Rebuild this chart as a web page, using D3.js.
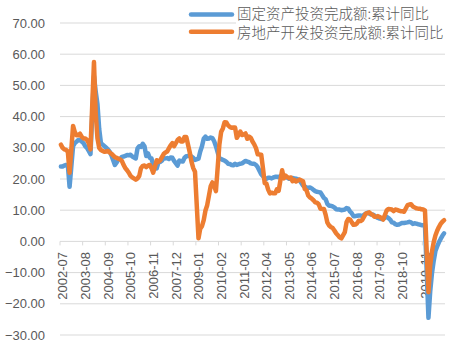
<!DOCTYPE html>
<html><head><meta charset="utf-8">
<script src="https://cdn.jsdelivr.net/npm/d3@7/dist/d3.min.js"></script>
<style>html,body{margin:0;padding:0;background:#fff;}svg{display:block;}</style>
</head><body>
<svg id="chart" width="468" height="355"></svg>
<script>
// ---------- DATA ----------
const seriesNames = ["固定资产投资完成额:累计同比", "房地产开发投资完成额:累计同比"];
const startYear = 2002, startMonth = 7, monthCount = 221; // 2002-07 .. 2020-11
const yTicks = [-30, -20, -10, 0, 10, 20, 30, 40, 50, 60, 70];
const tickLabels = ["2002-07","2003-08","2004-09","2005-10","2006-11","2007-12","2009-01","2010-02","2011-03","2012-04","2013-05","2014-06","2015-07","2016-08","2017-09","2018-10","2019-11"];

// 固定资产投资完成额:累计同比 (%), monthly; null = no separate January figure
const fixedAssetYoY = [
  24.0, 24.0, 24.3, 24.5, 24.5, 17.5,                                   // 2002-07..12
  null, 30.5, 31.5, 32.0, 32.5, 32.5, 32.0, 31.5, 30.5, 30.0, 29.0, 28.0, // 2003
  null, 53.0, 48.0, 44.0, 36.0, 31.5, 31.0, 30.5, 30.0, 29.5, 28.8, 27.6, // 2004
  null, 24.5, 25.3, 26.2, 26.4, 27.1, 27.2, 27.4, 27.7, 27.6, 27.8, 27.2, // 2005
  null, 26.6, 29.8, 30.5, 30.3, 31.3, 30.5, 27.4, 28.2, 26.8, 26.6, 24.5, // 2006
  null, 23.4, 25.3, 25.5, 25.9, 26.7, 26.6, 26.7, 26.4, 26.9, 26.8, 25.8, // 2007
  null, 24.3, 25.9, 25.7, 25.6, 26.8, 27.3, 27.4, 27.6, 27.2, 26.8, 26.1, // 2008
  null, 26.5, 28.8, 30.5, 32.9, 33.6, 32.9, 33.0, 33.3, 33.1, 32.1, 30.5, // 2009
  null, 26.6, 26.4, 26.1, 25.9, 25.5, 24.9, 24.8, 24.5, 24.4, 24.9, 24.5, // 2010
  null, 24.9, 25.0, 25.4, 25.8, 25.6, 25.4, 25.0, 24.9, 24.9, 24.5, 23.8, // 2011
  null, 21.5, 20.9, 20.2, 20.1, 20.4, 20.4, 20.2, 20.5, 20.7, 20.7, 20.6, // 2012
  null, 21.2, 20.9, 20.6, 20.4, 20.1, 20.1, 20.3, 20.2, 20.1, 19.9, 19.6, // 2013
  null, 17.9, 17.6, 17.3, 17.2, 17.3, 17.0, 16.5, 16.1, 15.9, 15.8, 15.7, // 2014
  null, 13.9, 13.5, 12.0, 11.4, 11.4, 11.2, 10.9, 10.3, 10.2, 10.2, 10.0, // 2015
  null, 10.2, 10.7, 10.5,  9.6,  9.0,  8.1,  8.1,  8.2,  8.3,  8.3,  8.1, // 2016
  null,  8.9,  9.2,  8.9,  8.6,  8.6,  8.3,  7.8,  7.5,  7.3,  7.2,  7.2, // 2017
  null,  7.9,  7.5,  7.0,  6.1,  6.0,  5.5,  5.3,  5.4,  5.7,  5.9,  5.9, // 2018
  null,  6.1,  6.3,  6.1,  5.6,  5.8,  5.7,  5.5,  5.4,  5.2,  5.2,  5.4, // 2019
  null, -24.5, -16.1, -10.3, -6.3, -3.1, -1.6, -0.3, 0.8, 1.8, 2.6        // 2020-01..11
];

// 房地产开发投资完成额:累计同比 (%)
const realEstateYoY = [
  31.0, 30.0, 29.5, 29.3, 28.8, 22.0,                                   // 2002-07..12
  null, 37.0, 35.0, 34.0, 34.0, 34.5, 33.5, 33.0, 33.0, 32.5, 31.5, 29.5, // 2003
  null, 57.5, 41.0, 33.0, 30.0, 29.3, 29.0, 28.7, 28.8, 29.0, 28.5, 28.1, // 2004
  null, 27.0, 26.8, 26.5, 26.3, 25.8, 24.5, 23.5, 22.8, 22.0, 21.0, 20.5, // 2005
  null, 19.8, 20.2, 21.0, 23.5, 24.2, 24.3, 23.8, 24.3, 24.5, 23.5, 22.0, // 2006
  null, 26.0, 25.5, 26.0, 27.0, 28.0, 28.5, 28.8, 29.8, 30.8, 31.5, 30.5, // 2007
  null, 32.5, 33.0, 32.0, 32.0, 33.5, 33.5, 31.0, 28.5, 25.5, 23.5, 22.3, // 2008
  null,  1.0,  4.1,  4.9,  6.8,  9.9, 11.6, 14.7, 17.7, 18.9, 17.8, 16.1, // 2009
  null, 31.1, 35.1, 36.2, 38.2, 38.1, 37.2, 36.7, 36.4, 36.5, 36.5, 33.2, // 2010
  null, 35.2, 34.1, 34.3, 34.6, 32.9, 33.6, 33.2, 32.0, 31.1, 29.9, 27.9, // 2011
  null, 27.8, 23.5, 18.7, 18.5, 16.6, 15.4, 15.6, 15.4, 15.4, 16.7, 16.2, // 2012
  null, 22.8, 20.2, 21.1, 20.6, 20.3, 20.5, 19.3, 19.7, 19.2, 19.5, 19.8, // 2013
  null, 19.3, 16.8, 16.4, 14.7, 14.1, 13.7, 13.2, 12.5, 12.4, 11.9, 10.5, // 2014
  null, 10.4,  8.5,  6.0,  5.1,  4.6,  4.3,  3.5,  2.6,  2.0,  1.3,  1.0, // 2015
  null,  3.0,  6.2,  7.2,  7.0,  6.1,  5.3,  5.4,  5.8,  6.6,  6.5,  6.9, // 2016
  null,  8.9,  9.1,  9.3,  8.8,  8.5,  7.9,  7.9,  8.1,  7.8,  7.5,  7.0, // 2017
  null,  9.9, 10.4, 10.3, 10.2,  9.7, 10.2, 10.1,  9.9,  9.7,  9.7,  9.5, // 2018
  null, 11.6, 11.8, 11.9, 11.2, 10.9, 10.6, 10.5, 10.5, 10.3, 10.2,  9.9, // 2019
  null, -16.3, -7.7, -3.3, -0.3, 1.9, 3.4, 4.6, 5.6, 6.3, 6.8            // 2020-01..11
];

const colors = ["#5B9BD5", "#ED7D31"];

// ---------- CATEGORIES ----------
const months = [];
for (let k = 0; k < monthCount; k++) {
  const t = startYear * 12 + (startMonth - 1) + k;
  const yy = Math.floor(t / 12), mm = t % 12 + 1;
  months.push(yy + "-" + (mm < 10 ? "0" : "") + mm);
}

// ---------- CHART ----------
const svg = d3.select("#chart");
const x = d3.scaleBand().domain(months).range([60, 445]).padding(0);
const cx = m => x(m) + x.bandwidth() / 2;
const y = d3.scaleLinear().domain([-30, 70]).range([335, 23]);

const gridColor = "#d9d9d9";
const textColor = "#595959";

// gridlines
svg.append("g").selectAll("line").data(yTicks).join("line")
  .attr("x1", 60).attr("x2", 445)
  .attr("y1", d => y(d)).attr("y2", d => y(d))
  .attr("stroke", gridColor).attr("stroke-width", 1);

// y labels
svg.append("g").selectAll("text").data(yTicks).join("text")
  .attr("x", 45).attr("y", d => y(d))
  .attr("text-anchor", "end").attr("dominant-baseline", "central")
  .attr("font-family", "'Liberation Sans', Arial, sans-serif")
  .attr("font-size", 13).attr("fill", textColor)
  .text(d => d3.format(".2f")(d));

// x ticks
svg.append("g").selectAll("line").data(tickLabels).join("line")
  .attr("x1", d => x(d)).attr("x2", d => x(d))
  .attr("y1", y(0)).attr("y2", y(0) + 4)
  .attr("stroke", gridColor).attr("stroke-width", 1);

// x labels
svg.append("g").selectAll("text").data(tickLabels).join("text")
  .attr("transform", d => `translate(${cx(d) + 6.5},252) rotate(-90)`)
  .attr("text-anchor", "end")
  .attr("font-family", "'Liberation Sans', Arial, sans-serif")
  .attr("font-size", 13).attr("fill", textColor)
  .text(d => d);

// series
const line = d3.line().x(d => cx(d.m)).y(d => y(d.v));
[fixedAssetYoY, realEstateYoY].forEach((vals, si) => {
  const pts = months.map((m, i) => ({ m, v: vals[i] })).filter(d => d.v !== null && d.v !== undefined);
  svg.append("path").datum(pts)
    .attr("d", line)
    .attr("fill", "none")
    .attr("stroke", colors[si])
    .attr("stroke-width", 4.5)
    .attr("stroke-linejoin", "round")
    .attr("stroke-linecap", "round");
});

// legend
svg.append("rect").attr("x", 236).attr("y", 2).attr("width", 212).attr("height", 40).attr("fill", "#fff");
const legY = [14.5, 31.7], legTextY = [18.6, 38];
seriesNames.forEach((name, i) => {
  svg.append("line").attr("x1", 191).attr("x2", 232)
    .attr("y1", legY[i]).attr("y2", legY[i])
    .attr("stroke", colors[i]).attr("stroke-width", 4.5).attr("stroke-linecap", "round");
  svg.append("text").attr("x", 237).attr("y", legTextY[i])
    .attr("font-family", "'Noto Sans CJK SC', sans-serif")
    .attr("font-weight", 300)
    .attr("font-size", 14.5).attr("fill", textColor)
    .text(name);
});
</script>
</body></html>
